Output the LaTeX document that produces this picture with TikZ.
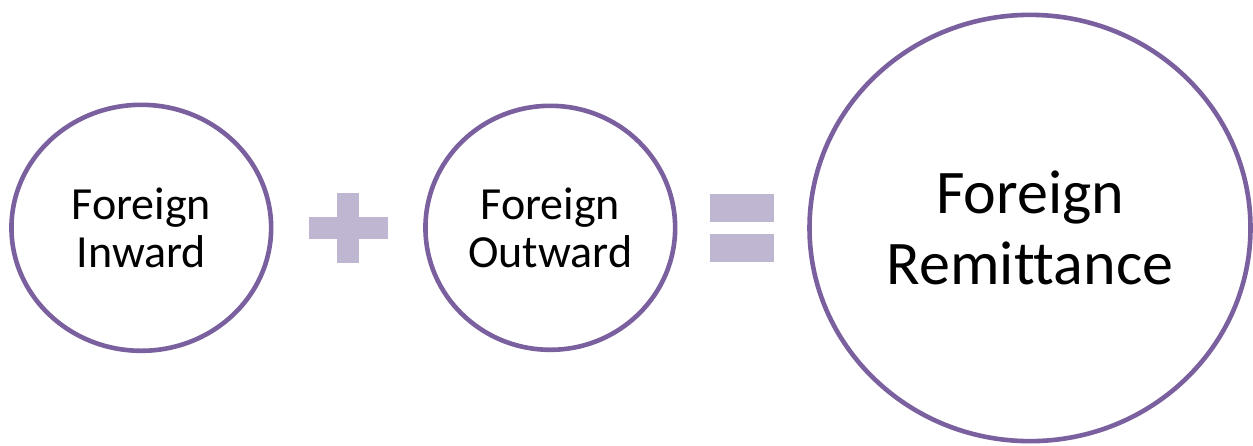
\documentclass[tikz,border=0pt]{standalone}
\usepackage{fontspec}
\setmainfont{Carlito}[Ligatures=NoCommon]
\usetikzlibrary{shapes.geometric}
\definecolor{ringpurple}{RGB}{122,96,158}
\definecolor{signlav}{RGB}{191,183,209}
\begin{document}
\begin{tikzpicture}[x=1pt,y=-1pt,
  ring/.style={ellipse,draw=ringpurple,line width=4.6pt,fill=white,inner sep=0pt,align=center,text=black},
  smalltext/.style={font=\fontsize{46}{48.3}\selectfont},
  bigtext/.style={font=\fontsize{62}{71}\selectfont},
  signbar/.style={fill=signlav,draw=none}]
\useasboundingbox (0,0) rectangle (1253,445);
\node[ring,smalltext,minimum width=259.7pt,minimum height=246pt] (inward) at (141.3,227.8) {Foreign\\Inward};
\node[ring,smalltext,minimum width=249.7pt,minimum height=244pt] (outward) at (550.3,227.8) {Foreign\\Outward};
\node[ring,bigtext,minimum width=441pt,minimum height=426.3pt] (remit) at (1030,228) {Foreign\\Remittance};
% plus sign
\path[signbar] (336.7,193.3) rectangle (359.3,263.3);
\path[signbar] (309,216.7) rectangle (387.7,239);
% equals sign
\path[signbar] (710,194) rectangle (774,221.7);
\path[signbar] (710,234.3) rectangle (774,261.7);
\end{tikzpicture}
\end{document}
